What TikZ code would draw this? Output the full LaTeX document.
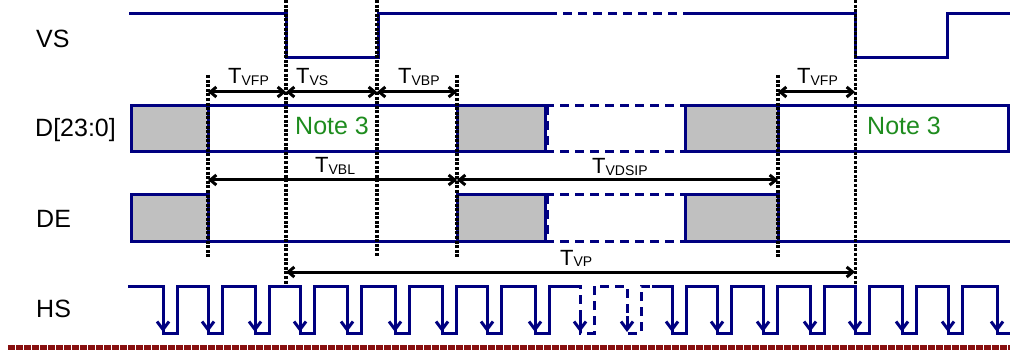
\documentclass[tikz,border=0pt]{standalone}
\usepackage{fontspec}
\setmainfont{Liberation Sans}
\usetikzlibrary{arrows.meta}
\definecolor{navy}{RGB}{0,0,128}
\definecolor{boxgray}{RGB}{192,192,192}
\definecolor{notegreen}{RGB}{30,140,30}
\definecolor{maroonline}{RGB}{135,15,15}
\newcommand{\tsub}[1]{T\raisebox{-1.5pt}{\fontsize{14}{15}\selectfont #1}}
\begin{document}
\begin{tikzpicture}[x=1pt,y=-1pt,
  wave/.style={navy,line width=3pt},
  wavedash/.style={wave,dash pattern=on 9pt off 6pt},
  graybox/.style={wave,fill=boxgray},
  guide/.style={black,line width=4pt,dash pattern=on 3pt off 1.6pt},
  guidethin/.style={guide,line width=3pt},
  dim/.style={black,line width=3pt,{Straight Barb[length=6pt,width=10pt]}-{Straight Barb[length=6pt,width=10pt]}},
  hsarrow/.style={wave,-{Straight Barb[length=8pt,width=12pt]}},
  sig/.style={font=\fontsize{25}{28}\selectfont,anchor=base west,inner sep=0pt},
  note/.style={sig,text=notegreen},
  tlab/.style={anchor=base west,inner sep=0pt,font=\fontsize{22}{24}\selectfont}]
\useasboundingbox (0,0) rectangle (1010,350);

% signal names
\node[sig] (lvs) at (36,48) {VS};
\node[sig] (ld) at (35,137) {D[23:0]};
\node[sig] (lde) at (36,227) {DE};
\node[sig] (lhs) at (36,317) {HS};

% VS waveform
\draw[wave] (129,14) -- (286,14) -- (286,58) -- (378,58) -- (378,14) -- (548,14);
\draw[wavedash] (548,14) -- (683,14);
\draw[wave] (683,14) -- (855,14) -- (855,58) -- (947,58) -- (947,14) -- (1010,14);

% D[23:0]
\draw[graybox] (131,106) rectangle (208,152);
\draw[wave] (208,106) -- (457,106);
\draw[wave] (208,152) -- (457,152);
\draw[graybox] (457,106) rectangle (545,152);
\draw[wavedash] (545,106) -- (685,106);
\draw[wavedash] (545,152) -- (685,152);
\draw[wavedash] (547,106) -- (547,152);
\draw[graybox] (685,106) rectangle (778,152);
\draw[wave] (778,106) rectangle (1008,152);
\node[note] (n1) at (295,135) {Note 3};
\node[note] (n2) at (867,135) {Note 3};

% DE
\draw[graybox] (131,195) rectangle (208,241);
\draw[wave] (208,241) -- (457,241);
\draw[graybox] (457,195) rectangle (545,241);
\draw[wavedash] (545,195) -- (685,195);
\draw[wavedash] (545,241) -- (685,241);
\draw[wavedash] (547,195) -- (547,241);
\draw[graybox] (685,195) rectangle (778,241);
\draw[wave] (778,241) -- (1010,241);

% HS waveform
\draw[wave] (128,286)
  foreach \f in {163,208,255,300,347,395,442,487,535} {
    -- (\f,286) -- (\f,333) -- ({\f+14},333) -- ({\f+14},286) }
  -- (574,286);
\draw[wavedash] (574,286) -- (580,286) -- (580,333) -- (594,333) -- (594,286)
  -- (627,286) -- (627,333) -- (641,333) -- (641,286) -- (652,286);
\draw[wave] (652,286)
  foreach \f in {672,717,763,810,855,902,948} {
    -- (\f,286) -- (\f,333) -- ({\f+14},333) -- ({\f+14},286) }
  -- (997,286) -- (997,333) -- (1010,333);
\foreach \f in {163,208,255,300,347,395,442,487,535,580,627,672,717,763,810,855,902,948,997}
  \draw[hsarrow] (\f,316) -- (\f,332);

% guide lines
\coordinate (g1t) at (208,75);  \coordinate (g1b) at (208,257);
\coordinate (g2t) at (286,0);   \coordinate (g2b) at (286,285);
\coordinate (g3t) at (377,0);   \coordinate (g3b) at (377,257);
\coordinate (g4t) at (457,75);  \coordinate (g4b) at (457,257);
\coordinate (g5t) at (778,75);  \coordinate (g5b) at (778,257);
\coordinate (g6t) at (855,0);   \coordinate (g6b) at (855,285);
\draw[guide] (g1t) -- (g1b);
\draw[guide] (g2t) -- (g2b);
\draw[guide] (g3t) -- (g3b);
\draw[guide] (g4t) -- (g4b);
\draw[guide] (g5t) -- (g5b);
\draw[guidethin] (g6t) -- (g6b);

% dimension arrows
\coordinate (a1) at (208,92); \coordinate (a2) at (286,92);
\coordinate (a3) at (377,92); \coordinate (a4) at (457,92);
\coordinate (a5) at (778,92); \coordinate (a6) at (855,92);
\coordinate (b1) at (208,180); \coordinate (b2) at (457,180); \coordinate (b3) at (778,180);
\coordinate (c1) at (286,272); \coordinate (c2) at (855,272);
\draw[dim] (a1) -- (a2);
\draw[dim] (a2) -- (a3);
\draw[dim] (a3) -- (a4);
\draw[dim] (a5) -- (a6);
\draw[dim] (b1) -- (b2);
\draw[dim] (b2) -- (b3);
\draw[dim] (c1) -- (c2);

\node[tlab] (tvfp1) at (228,84) {\tsub{VFP}};
\node[tlab] (tvs) at (296,84) {\tsub{VS}};
\node[tlab] (tvbp) at (398,84) {\tsub{VBP}};
\node[tlab] (tvfp2) at (797,84) {\tsub{VFP}};
\node[tlab] (tvbl) at (315,173) {\tsub{VBL}};
\node[tlab] (tvdsip) at (592,174) {\tsub{VDSIP}};
\node[tlab] (tvp) at (560,265) {\tsub{VP}};

% bottom border
\draw[maroonline,line width=5pt,dash pattern=on 7pt off 1pt] (8,347.5) -- (1010,347.5);
\end{tikzpicture}
\end{document}
